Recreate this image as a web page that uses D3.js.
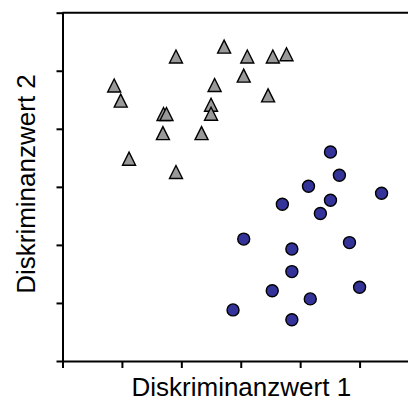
<!DOCTYPE html>
<html>
<head>
<meta charset="utf-8">
<script src="https://cdn.jsdelivr.net/npm/d3@7"></script>
<style>
  html, body { margin: 0; padding: 0; background: #fff; }
  svg { display: block; }
  text { font-family: "Liberation Sans", Arial, sans-serif; }
</style>
</head>
<body>
<svg id="chart" width="408" height="408"></svg>
<script>
// Discriminant scores, group A (triangles)
const groupAx = [-2.13, -2.02, -1.88, -1.09, -1.09, -1.30, -1.25, -1.31, -0.66, -0.50, -0.50, -0.44, -0.28, 0.05, 0.11, 0.46, 0.54, 0.77];
const groupAy = [1.74, 1.48, 0.48, 2.24, 0.25, 1.25, 1.25, 0.92, 0.92, 1.41, 1.255, 1.75, 2.41, 1.91, 2.24, 1.57, 2.24, 2.28];

// Discriminant scores, group B (circles)
const groupBx = [1.51, 1.66, 1.14, 2.37, 0.70, 1.51, 1.34, 0.05, 0.86, 1.83, 0.86, 0.53, 2.00, 1.17, -0.13, 0.86];
const groupBy = [0.60, 0.20, 0.01, -0.11, -0.30, -0.23, -0.46, -0.90, -1.07, -0.96, -1.46, -1.79, -1.73, -1.93, -2.12, -2.29];

const xTicks = [-3, -2, -1, 0, 1, 2];
const yTicks = [-3, -2, -1, 0, 1, 2, 3];

const xTitle = "Diskriminanzwert 1";
const yTitle = "Diskriminanzwert 2";

const svg = d3.select("#chart");

const x = d3.scaleLinear().domain([-3, 3]).range([62.5, 419]);
const y = d3.scaleLinear().domain([-3, 3]).range([361, 12.7]);

// Axes: tick marks only, no labels
const xAxis = svg.append("g")
  .attr("transform", `translate(0,${y(-3)})`)
  .call(d3.axisBottom(x).tickValues(xTicks).tickSize(7).tickSizeOuter(0).tickFormat(""));
const yAxis = svg.append("g")
  .attr("transform", `translate(${x(-3)},0)`)
  .call(d3.axisLeft(y).tickValues(yTicks).tickSize(6).tickSizeOuter(0).tickFormat(""));

[xAxis, yAxis].forEach(g => {
  g.selectAll("path, line").attr("stroke", "#000").attr("stroke-width", 2);
  g.select(".domain").attr("stroke-linecap", "square");
});

// Top frame line
svg.append("line")
  .attr("x1", x(-3)).attr("x2", x(3))
  .attr("y1", y(3)).attr("y2", y(3))
  .attr("stroke", "#000").attr("stroke-width", 2);

// Triangles
const triPath = "M0,-6.8L6.5,6.2L-6.5,6.2Z";
svg.append("g").selectAll("path")
  .data(d3.zip(groupAx, groupAy))
  .join("path")
  .attr("d", triPath)
  .attr("transform", d => `translate(${x(d[0])},${y(d[1])})`)
  .attr("fill", "#999999")
  .attr("stroke", "#000")
  .attr("stroke-width", 1.4)
  .attr("stroke-linejoin", "miter");

// Circles
svg.append("g").selectAll("circle")
  .data(d3.zip(groupBx, groupBy))
  .join("circle")
  .attr("cx", d => x(d[0]))
  .attr("cy", d => y(d[1]))
  .attr("r", 6)
  .attr("fill", "#333399")
  .attr("stroke", "#000")
  .attr("stroke-width", 1.4);

// Axis titles
svg.append("text")
  .attr("x", 241.3)
  .attr("y", 396)
  .attr("text-anchor", "middle")
  .attr("font-size", 26)
  .attr("fill", "#000")
  .text(xTitle);

svg.append("text")
  .attr("transform", "translate(35,184) rotate(-90)")
  .attr("text-anchor", "middle")
  .attr("font-size", 26)
  .attr("fill", "#000")
  .text(yTitle);
</script>
</body>
</html>
